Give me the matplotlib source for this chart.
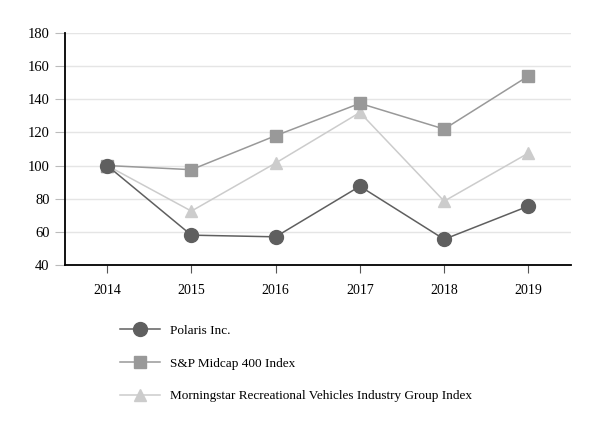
import matplotlib.pyplot as plt

plt.rcParams['font.family'] = ['Liberation Serif', 'DejaVu Serif']

years = [2014, 2015, 2016, 2017, 2018, 2019]
polaris = [100, 58, 57, 87.5, 55.5, 75.5]
sp400 = [100, 97.5, 118, 137.5, 122, 154]
morningstar = [100, 72.5, 101.5, 132, 78.5, 107.5]
labels = ["Polaris Inc.", "S&P Midcap 400 Index",
          "Morningstar Recreational Vehicles Industry Group Index"]

fig = plt.figure(figsize=(6.04, 4.33), dpi=100)
ax = fig.add_axes([0.1076, 0.388, 0.837, 0.536])

ax.plot(years, polaris, color='#5f5f5f', lw=1.1, marker='o', ms=10, label=labels[0], zorder=5)
ax.plot(years, sp400, color='#999999', lw=1.1, marker='s', ms=9, label=labels[1], zorder=4)
ax.plot(years, morningstar, color='#cccccc', lw=1.1, marker='^', ms=9, label=labels[2], zorder=3)

ax.set_xlim(2013.5, 2019.5)
ax.set_ylim(40, 180)
ax.set_yticks(range(40, 181, 20))
ax.set_xticks(years)
ax.grid(axis='y', color='#e5e5e5', lw=1)
ax.set_axisbelow(True)
for s in ['top', 'right']:
    ax.spines[s].set_visible(False)
ax.spines['left'].set_linewidth(1.3)
ax.spines['bottom'].set_linewidth(1.3)
ax.tick_params(axis='y', length=7, width=0.8, color='#bbbbbb', labelsize=10.5, pad=4)
ax.tick_params(axis='x', length=6, width=0.8, color='#555555', labelsize=10, pad=8)

fig.legend(loc='upper left', bbox_to_anchor=(0.19, 0.262), frameon=False,
           fontsize=9.5, labelspacing=1.55, handlelength=3.0, handletextpad=0.8,
           borderaxespad=0)

fig.savefig('out.png', dpi=100)
